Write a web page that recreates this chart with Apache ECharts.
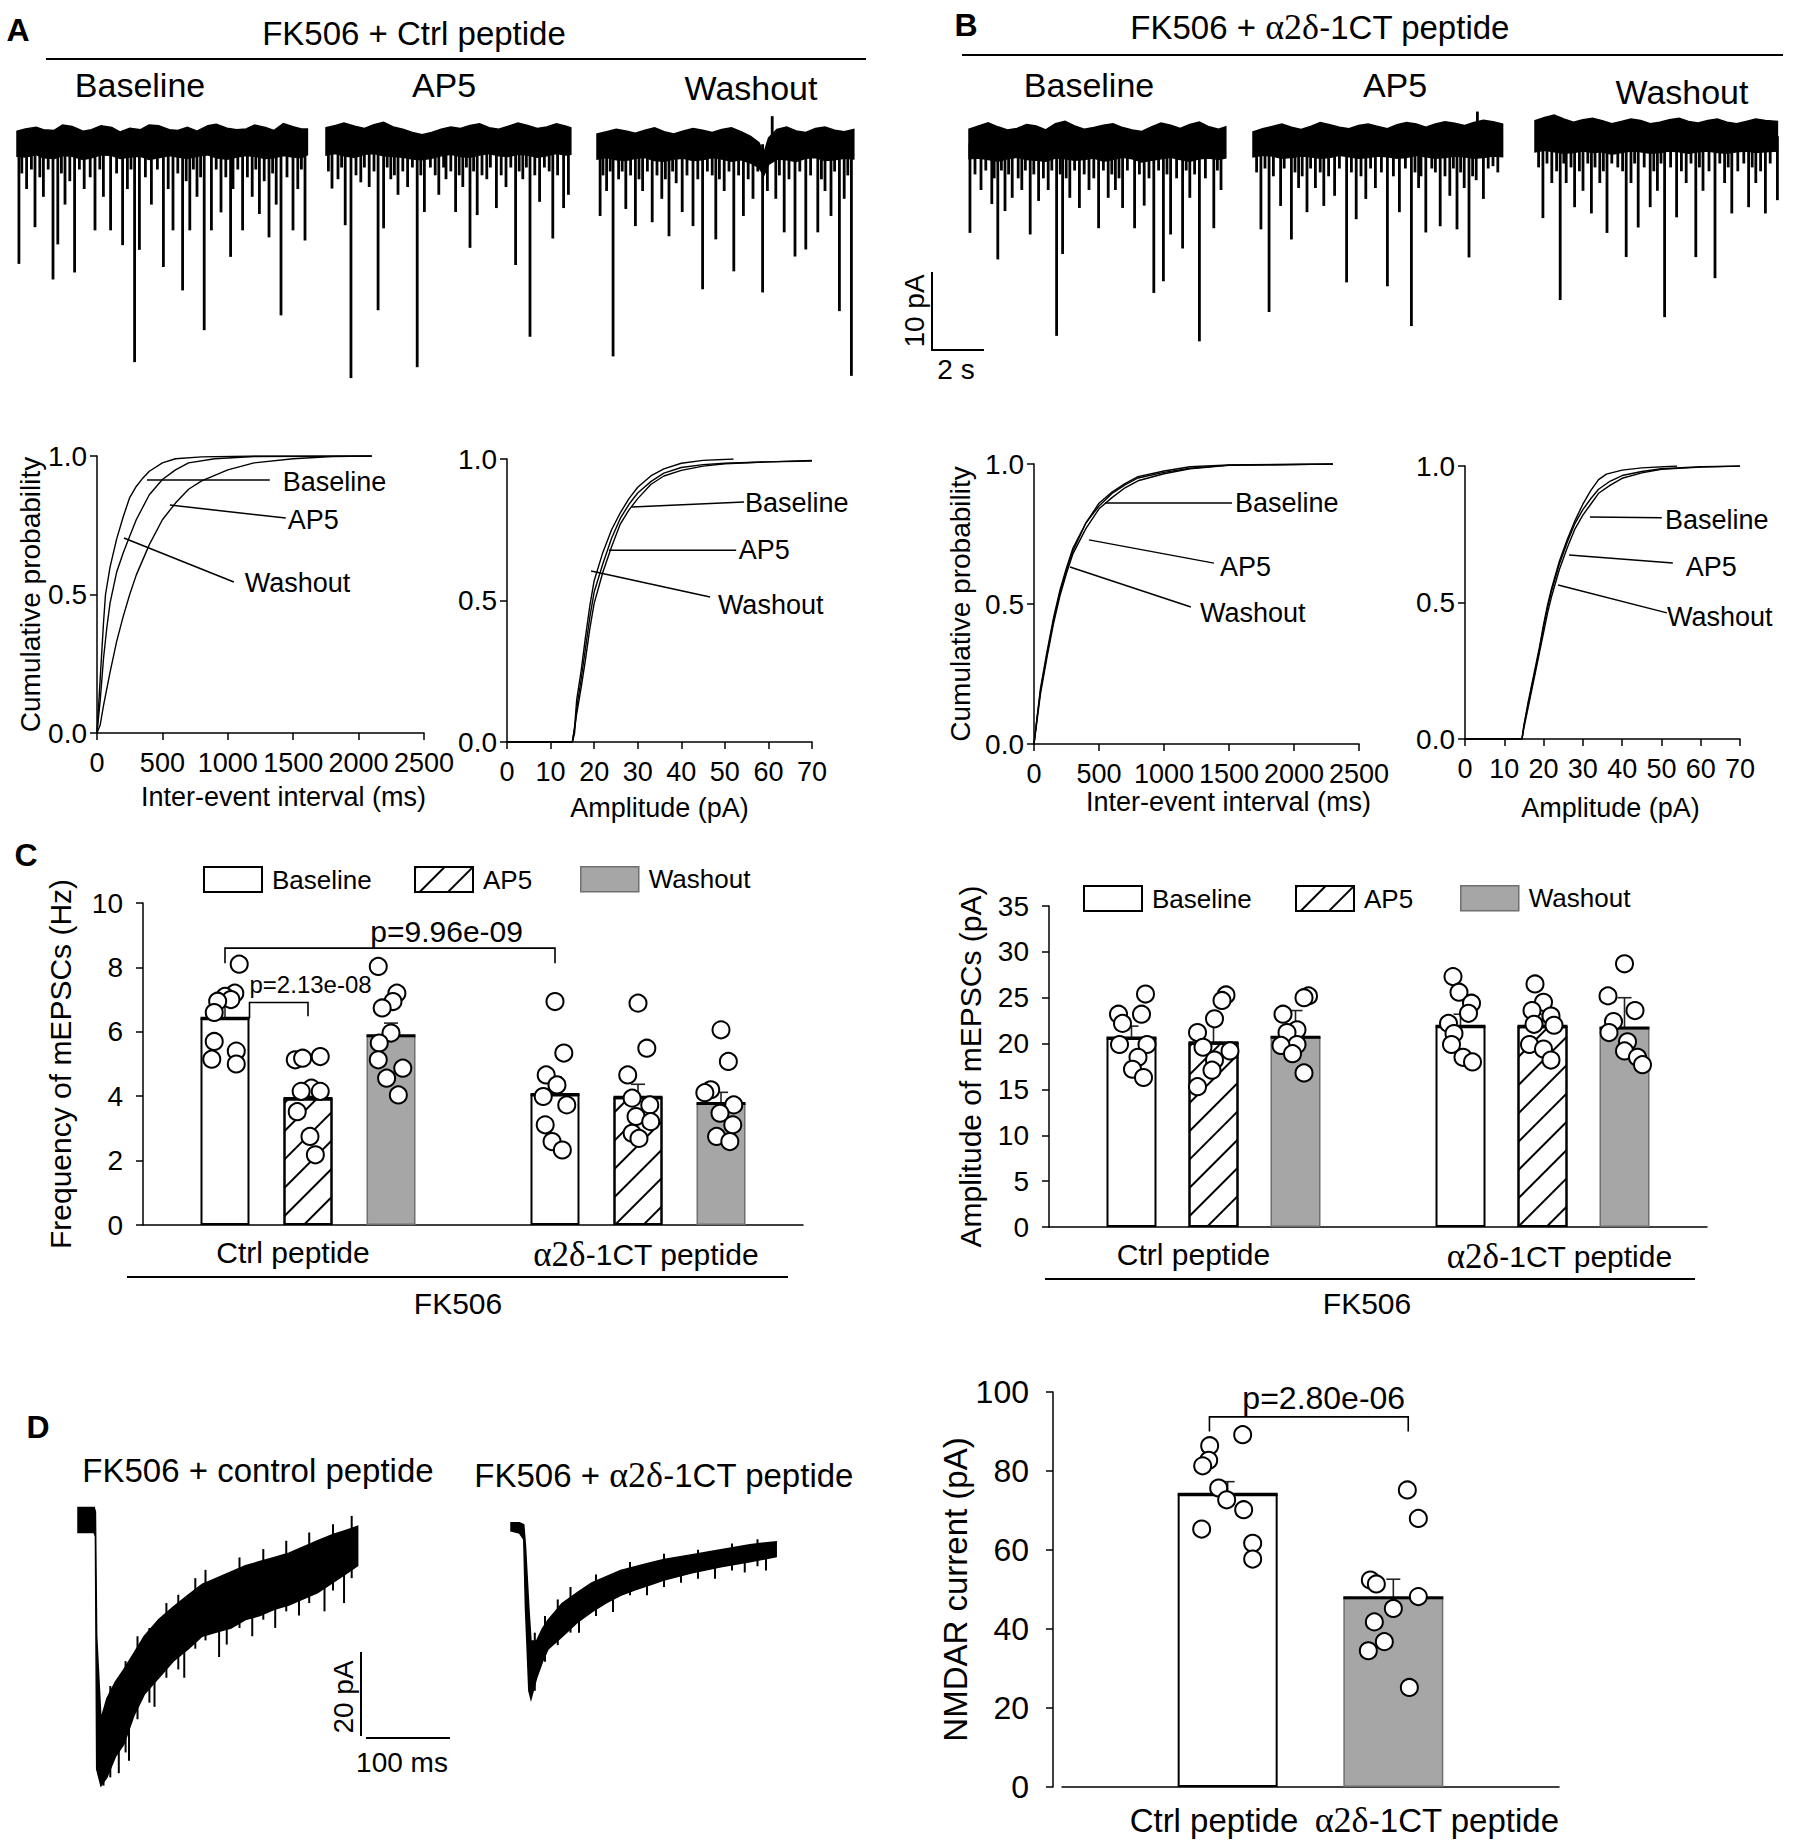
<!DOCTYPE html>
<html><head><meta charset="utf-8">
<script src="https://cdn.jsdelivr.net/npm/echarts/dist/echarts.min.js"></script>
<style>html,body{margin:0;padding:0;background:#fff}#chart{width:1800px;height:1843px}</style>
</head><body><div id="chart"></div>
<script>
// ================= DATA =================
// ---- Panel A/B mEPSC traces: noise band (time s, top pA, bottom pA) and events [t(s), amplitude(pA)]
const aBaseDur = 12.1, aAP5Dur = 10.2, aWashDur = 10.7, bBaseDur = 10.7, bAP5Dur = 10.4, bWashDur = 10.1;
const aBaseT = [0,0.35,0.8,1.1,1.55,1.9,2.3,2.75,3.1,3.5,3.95,4.3,4.7,5.15,5.5,5.9,6.35,6.7,7.1,7.5,7.95,8.3,8.75,9.15,9.55,9.9,10.35,10.7,11.1,11.5,11.85,12.1];
const aBaseTop = [1.4,1.7,1.9,1.6,1.5,2.2,2.0,1.4,1.6,2.1,1.9,1.3,1.8,1.6,2.2,2.1,1.6,1.5,1.9,1.4,2.1,2.3,1.8,1.6,1.7,2.2,1.9,1.5,2.4,2.0,1.7,1.7];
const aBaseBot = [-1.8,-1.9,-1.6,-2.0,-2.1,-1.7,-1.8,-2.2,-2.0,-1.6,-1.7,-2.1,-1.9,-1.8,-2.2,-2.0,-1.7,-1.9,-2.1,-1.8,-1.6,-2.0,-2.2,-1.9,-1.7,-1.8,-2.1,-2.0,-1.7,-1.9,-2.0,-1.6];
const aBaseEvents = [[0.08,-15.6],[0.4,-6],[0.75,-10.9],[1.1,-7],[1.5,-17.6],[1.7,-13.1],[2.0,-8],[2.4,-16.7],[2.8,-6],[3.25,-11.3],[3.6,-7],[3.9,-11.3],[4.4,-13.2],[4.6,-6],[4.9,-28.2],[5.1,-13.8],[5.6,-8],[6.1,-16.0],[6.3,-6],[6.5,-11.3],[6.9,-19.0],[7.2,-11.3],[7.5,-7],[7.8,-24.1],[8.1,-11.3],[8.5,-9],[8.9,-14.7],[9.0,-6],[9.4,-11.3],[9.8,-7],[10.1,-9.2],[10.5,-12.2],[10.8,-8],[11.0,-22.2],[11.5,-11.3],[11.7,-6],[12.0,-12.6],
  [0.2,-4],[0.6,-3.5],[0.95,-4.5],[1.3,-3.5],[1.85,-4],[2.2,-5],[2.6,-3.5],[3.05,-4.5],[3.45,-3.5],[4.15,-4],[4.75,-3.5],[5.35,-4.5],[5.85,-3.5],[6.7,-4],[7.05,-5],[7.35,-3.5],[7.65,-4.5],[8.3,-3.5],[8.7,-4.5],[9.2,-3.5],[9.6,-4.5],[9.95,-3.5],[10.3,-5],[10.65,-4],[11.25,-4.5],[11.85,-3.5]];
const aAP5T = [0,0.4,0.75,1.2,1.6,2.0,2.4,2.8,3.2,3.6,4.0,4.4,4.8,5.2,5.6,6.0,6.4,6.8,7.2,7.6,8.0,8.4,8.8,9.2,9.6,10.0,10.2];
const aAP5Top = [1.6,1.9,2.2,1.8,1.5,2.0,2.3,1.7,1.4,1.0,0.7,1.0,1.4,1.7,1.5,1.9,2.1,1.6,1.4,1.8,2.2,1.9,1.5,1.7,2.1,1.8,1.6];
const aAP5Bot = [-1.9,-1.7,-2.0,-2.2,-1.8,-1.7,-2.0,-2.1,-2.2,-2.4,-2.5,-2.3,-2.0,-1.8,-2.1,-2.2,-1.9,-1.7,-2.0,-2.1,-1.8,-1.9,-2.2,-2.0,-1.7,-1.9,-1.8];
const aAP5Events = [[0.25,-6.2],[0.5,-5],[0.8,-10.9],[1.04,-30.5],[1.45,-5.4],[1.8,-6],[2.17,-21.8],[2.4,-11.3],[2.7,-5],[3.0,-7],[3.4,-6],[3.8,-29.1],[4.1,-9.2],[4.7,-7],[5.0,-5],[5.4,-9.2],[5.7,-6],[6.0,-13.8],[6.3,-9.6],[6.7,-5],[7.1,-8.7],[7.5,-6],[7.9,-16],[8.2,-5],[8.5,-25.2],[8.9,-7.9],[9.45,-12.6],[9.9,-8.7],[10.1,-7],
  [0.1,-4],[0.65,-3.5],[1.25,-4.5],[1.6,-3.5],[2.0,-4],[2.55,-3.5],[2.85,-4.5],[3.2,-4],[3.6,-3.5],[3.95,-4.5],[4.35,-3.5],[4.55,-4.5],[4.9,-3.5],[5.2,-4],[5.55,-4.5],[5.85,-3.5],[6.15,-4],[6.5,-4.5],[6.85,-3.5],[7.3,-4.5],[7.7,-3.5],[8.05,-4],[8.35,-3.5],[8.7,-4.5],[9.1,-3.5],[9.3,-4],[9.65,-4.5]];
const aWashT = [0,0.4,0.8,1.2,1.6,2.0,2.4,2.8,3.2,3.6,4.0,4.4,4.8,5.2,5.6,6.0,6.4,6.75,6.95,7.15,7.5,7.9,8.3,8.7,9.1,9.5,9.9,10.3,10.7];
const aWashTop = [1.3,1.6,1.9,1.7,1.4,1.8,2.1,1.6,1.3,1.7,2.0,1.8,1.5,1.9,2.1,1.6,1.0,0.2,-1.2,0.8,1.9,2.2,1.7,1.5,2.0,2.2,1.8,1.6,1.9];
const aWashBot = [-1.9,-1.7,-2.0,-2.1,-1.8,-1.7,-2.1,-2.2,-1.9,-1.8,-2.1,-2.0,-1.7,-1.9,-2.2,-2.0,-2.4,-3.0,-4.0,-2.6,-1.9,-2.0,-2.2,-1.8,-1.7,-2.1,-2.0,-1.8,-1.9];
const aWashEvents = [[0.13,-9.2],[0.4,-6],[0.67,-27.2],[1.2,-8.3],[1.6,-10.5],[1.9,-6],[2.3,-10],[2.7,-7],[3.0,-11.8],[3.3,-5],[3.55,-8.7],[4.0,-10.5],[4.4,-18.6],[4.95,-12.2],[5.3,-6],[5.7,-16.3],[6.1,-9.2],[6.5,-7],[6.9,-19],[7.1,-6],[7.3,3.6],[7.45,-7],[7.8,-11.3],[8.25,-14.4],[8.7,-13.5],[9.2,-11.3],[9.5,-6],[9.75,-9.2],[10.1,-21.4],[10.3,-7],[10.6,-29.7],
  [0.25,-4],[0.55,-3.5],[0.9,-4.5],[1.05,-3.5],[1.4,-4],[1.75,-4.5],[2.1,-3.5],[2.5,-4],[2.85,-4.5],[3.15,-3.5],[3.75,-4],[4.2,-4.5],[4.6,-3.5],[4.8,-4],[5.1,-4.5],[5.5,-3.5],[5.9,-4],[6.3,-4.5],[6.7,-3.5],[7.6,-4],[8.0,-4.5],[8.45,-3.5],[8.9,-4],[9.35,-4.5],[9.9,-3.5],[10.45,-4]];
const bBaseT = [0,0.4,0.8,1.2,1.6,2.0,2.4,2.8,3.2,3.6,4.0,4.4,4.8,5.2,5.6,6.0,6.4,6.8,7.2,7.6,8.0,8.4,8.8,9.2,9.6,10.0,10.4,10.7];
const bBaseTop = [1.8,2.2,2.6,2.1,1.7,1.9,2.4,2.2,1.7,2.5,2.8,2.2,1.8,2.0,2.3,2.5,2.0,1.7,1.5,2.1,2.6,2.3,1.9,2.4,2.7,2.1,1.8,2.1];
const bBaseBot = [-2.0,-1.9,-2.1,-2.3,-2.0,-1.8,-2.1,-2.2,-2.3,-1.9,-2.0,-2.2,-2.1,-1.9,-2.3,-2.1,-1.8,-2.0,-2.4,-2.2,-2.0,-1.8,-2.1,-2.3,-2.0,-1.9,-2.1,-1.9];
const bBaseEvents = [[0.04,-11.5],[0.5,-6],[0.95,-7.8],[1.2,-14.9],[1.5,-8.7],[1.8,-7],[2.2,-6],[2.55,-11.7],[2.9,-7.4],[3.3,-6],[3.65,-24.7],[3.9,-14.2],[4.2,-7],[4.6,-8.3],[5.0,-6],[5.4,-10.9],[5.8,-7],[6.1,-6],[6.4,-8.3],[6.9,-10.9],[7.3,-8],[7.7,-19.2],[8.1,-17.7],[8.4,-11.7],[8.9,-13.5],[9.2,-7],[9.6,-25.4],[10.2,-10.9],[10.5,-6],
  [0.25,-4],[0.7,-3.5],[1.05,-4.5],[1.35,-3.5],[1.65,-4],[2.05,-4.5],[2.35,-3.5],[2.7,-4],[3.1,-4.5],[3.45,-3.5],[3.8,-4],[4.05,-4.5],[4.4,-3.5],[4.8,-4],[5.2,-4.5],[5.6,-3.5],[5.95,-4],[6.25,-4.5],[6.6,-3.5],[7.1,-4],[7.5,-4.5],[7.9,-3.5],[8.25,-4],[8.65,-4.5],[9.05,-3.5],[9.4,-4],[9.85,-4.5],[10.35,-3.5]];
const bAP5T = [0,0.4,0.8,1.2,1.6,2.0,2.4,2.8,3.2,3.6,4.0,4.4,4.8,5.2,5.6,6.0,6.4,6.8,7.2,7.6,8.0,8.4,8.8,9.2,9.6,10.0,10.4];
const bAP5Top = [1.2,1.6,1.9,2.2,1.8,1.5,1.9,2.4,2.1,1.8,1.6,2.0,2.2,1.9,1.6,2.1,2.4,2.2,1.8,2.2,2.5,2.3,2.0,2.4,2.7,2.5,2.2];
const bAP5Bot = [-2.0,-1.8,-1.9,-2.2,-2.1,-1.9,-2.0,-2.2,-2.1,-1.8,-2.0,-2.2,-2.1,-1.9,-2.0,-2.2,-2.1,-1.8,-2.0,-2.2,-2.1,-1.9,-2.0,-2.2,-2.1,-1.9,-2.0];
const bAP5Events = [[0.33,-11.3],[0.67,-21.9],[1.15,-8.3],[1.6,-12.6],[1.9,-6],[2.25,-9.1],[2.6,-6],[2.95,-8.3],[3.4,-7],[3.9,-18.1],[4.3,-10],[4.7,-7.4],[5.1,-6],[5.6,-18.6],[6.1,-9.1],[6.6,-23.7],[6.9,-6],[7.2,-11.7],[7.8,-10.9],[8.2,-7],[8.5,-11.3],[8.8,-6],[9.0,-14.9],[9.3,-5],[9.35,3.8],[9.6,-7.4],[10.0,-3.2],
  [0.15,-4],[0.5,-3.5],[0.85,-4.5],[1.3,-3.5],[1.75,-4],[2.05,-4.5],[2.4,-3.5],[2.8,-4],[3.15,-4.5],[3.6,-3.5],[4.1,-4],[4.5,-4.5],[4.9,-3.5],[5.35,-4],[5.85,-4.5],[6.35,-3.5],[6.75,-4],[7.0,-4.5],[7.45,-3.5],[7.6,-4],[8.0,-4.5],[8.35,-3.5],[8.65,-4],[9.15,-4.5],[9.8,-3.5],[10.2,-4]];
const bWashT = [0,0.4,0.8,1.2,1.6,2.0,2.4,2.8,3.2,3.6,4.0,4.4,4.8,5.2,5.6,6.0,6.4,6.8,7.2,7.6,8.0,8.4,8.8,9.2,9.6,10.1];
const bWashTop = [2.0,2.4,2.7,2.2,1.8,2.1,2.3,2.0,1.6,1.9,2.2,2.0,1.6,1.8,2.1,2.3,1.9,1.7,2.0,2.2,1.8,1.6,1.9,2.2,2.0,1.9];
const bWashBot = [-2.0,-1.8,-2.0,-2.2,-2.1,-1.9,-2.1,-2.0,-2.3,-2.1,-1.9,-2.0,-2.2,-2.1,-1.9,-2.0,-2.2,-2.0,-1.9,-2.1,-2.2,-2.0,-1.9,-2.1,-2.0,-1.9];
const bWashEvents = [[0.33,-10.5],[0.7,-6],[1.05,-21],[1.3,-6],[1.65,-9.1],[2.0,-7],[2.35,-9.9],[2.7,-6],[3.0,-12.4],[3.8,-15.5],[4.0,-6],[4.3,-11.7],[4.8,-9.1],[5.1,-7],[5.4,-23.2],[5.9,-10.4],[6.3,-6],[6.7,-15.5],[7.0,-7],[7.5,-18.2],[7.9,-6],[8.2,-9.9],[8.9,-9.1],[9.2,-6],[9.6,-9.9],[10.1,-8.2],
  [0.15,-4],[0.5,-3.5],[0.9,-4.5],[1.2,-3.5],[1.5,-4],[1.85,-4.5],[2.2,-3.5],[2.5,-4],[2.85,-4.5],[3.2,-3.5],[3.45,-4],[3.65,-4.5],[4.15,-3.5],[4.55,-4],[4.95,-4.5],[5.25,-3.5],[5.65,-4],[6.1,-4.5],[6.5,-3.5],[6.85,-4],[7.25,-4.5],[7.7,-3.5],[8.05,-4],[8.45,-4.5],[8.7,-3.5],[9.05,-4],[9.4,-4.5],[9.8,-3.5]];

// ---- Cumulative probability curves [x, P]
const ieiCtrlBaseline = [[0,0],[25,0.2],[50,0.4],[65,0.5],[100,0.6],[150,0.7],[200,0.78],[250,0.85],[300,0.89],[350,0.92],[400,0.945],[500,0.975],[600,0.99],[800,0.997],[1200,1],[2100,1]];
const ieiCtrlAP5 = [[0,0],[25,0.03],[50,0.1],[100,0.22],[150,0.33],[200,0.42],[250,0.5],[300,0.57],[400,0.68],[500,0.77],[600,0.83],[700,0.88],[800,0.91],[1000,0.95],[1200,0.975],[1500,0.99],[1800,0.998],[2100,1]];
const ieiCtrlWashout = [[0,0],[25,0.12],[50,0.27],[75,0.38],[100,0.47],[150,0.58],[200,0.65],[250,0.71],[300,0.77],[400,0.86],[500,0.915],[600,0.95],[700,0.975],[900,0.99],[1200,0.998],[2100,1]];
const ampCtrlBaseline = [[0,0],[15,0],[15.5,0.05],[16,0.15],[17,0.25],[18,0.37],[19,0.48],[20,0.57],[22,0.67],[24,0.75],[26,0.81],[28,0.86],[30,0.9],[33,0.94],[36,0.965],[40,0.985],[45,0.995],[52,1]];
const ampCtrlAP5 = [[0,0],[15,0],[15.5,0.03],[16,0.12],[17,0.22],[18,0.33],[19,0.44],[20,0.53],[22,0.63],[24,0.72],[26,0.79],[28,0.84],[30,0.88],[33,0.92],[36,0.95],[40,0.97],[45,0.98],[50,0.985],[60,0.99],[70,0.995]];
const ampCtrlWashout = [[0,0],[15,0],[16,0.1],[17,0.19],[18,0.29],[19,0.4],[20,0.49],[22,0.6],[24,0.69],[26,0.77],[28,0.82],[30,0.86],[33,0.91],[36,0.94],[40,0.96],[45,0.975],[50,0.983],[60,0.99],[70,0.993]];
const ieiCTBaseline = [[0,0],[25,0.1],[50,0.2],[100,0.33],[150,0.45],[200,0.55],[250,0.63],[300,0.7],[400,0.79],[500,0.86],[600,0.9],[700,0.93],[800,0.955],[1000,0.975],[1200,0.99],[1500,0.997],[2300,1]];
const ieiCTAP5 = [[0,0],[25,0.09],[50,0.18],[100,0.31],[150,0.43],[200,0.53],[250,0.61],[300,0.68],[400,0.77],[500,0.84],[600,0.88],[700,0.915],[800,0.94],[1000,0.965],[1200,0.983],[1500,0.995],[2300,1]];
const ieiCTWashout = [[0,0],[25,0.1],[50,0.19],[100,0.32],[150,0.44],[200,0.54],[250,0.62],[300,0.69],[400,0.79],[500,0.85],[600,0.895],[700,0.925],[800,0.95],[1000,0.97],[1200,0.985],[1500,0.996],[2300,1]];
const ampCTBaseline = [[0,0],[14.5,0],[15,0.05],[16,0.13],[17,0.2],[18,0.27],[19,0.34],[20,0.42],[21,0.49],[22,0.55],[24,0.65],[26,0.73],[28,0.8],[30,0.86],[32,0.91],[34,0.95],[36,0.97],[40,0.985],[45,0.993],[54,1]];
const ampCTAP5 = [[0,0],[14.5,0],[15,0.04],[16,0.11],[17,0.18],[18,0.25],[19,0.32],[20,0.39],[21,0.46],[22,0.52],[24,0.62],[26,0.7],[28,0.77],[30,0.82],[32,0.86],[34,0.9],[37,0.93],[40,0.955],[45,0.975],[50,0.988],[60,0.996],[70,1]];
const ampCTWashout = [[0,0],[14.5,0],[15,0.05],[16,0.12],[17,0.19],[18,0.26],[19,0.33],[20,0.41],[21,0.48],[22,0.54],[24,0.64],[26,0.72],[28,0.79],[30,0.84],[32,0.88],[34,0.915],[37,0.945],[40,0.965],[45,0.98],[50,0.99],[60,0.997],[70,1]];
const cumLabels = ['Baseline', 'AP5', 'Washout'];

// ---- Panel C
const groupLabels = ['Ctrl peptide', 'α2δ-1CT peptide'];
const condNames = ['Baseline', 'AP5', 'Washout'];
const freqMeanBaseline = [6.42, 4.05];
const freqMeanAP5 = [3.93, 3.97];
const freqMeanWashout = [5.88, 3.77];
const freqSemTopBaseline = [6.85, 4.6];
const freqSemTopAP5 = [4.25, 4.37];
const freqSemTopWashout = [6.27, 4.12];
const freqCtrlBaseline = [8.1,7.2,7.1,7.0,6.95,6.6,5.7,5.4,5.15,5.0];
const freqCtrlAP5 = [5.13,5.18,5.23,4.25,4.15,4.15,3.52,2.75,2.18];
const freqCtrlWashout = [8.03,7.2,6.94,6.74,5.96,5.65,5.13,4.87,4.56,4.04];
const freqCTBaseline = [6.94,5.34,4.66,4.35,3.99,3.73,3.11,2.59,2.33];
const freqCTAP5 = [6.89,5.49,4.66,3.94,3.73,3.37,3.21,2.85,2.69];
const freqCTWashout = [6.06,5.08,4.2,4.11,3.73,3.47,3.11,2.75,2.59];
const freqJitCtrlBaseline = [0.29,0.2,0.0,0.12,-0.15,-0.22,-0.22,0.23,-0.27,0.23];
const freqJitCtrlAP5 = [-0.26,-0.11,0.25,0.07,-0.14,0.25,-0.22,0.04,0.15];
const freqJitCtrlWashout = [-0.26,0.12,0.04,-0.18,0,-0.24,-0.26,0.24,-0.09,0.15];
const freqJitCTBaseline = [0,0.18,-0.18,0.04,-0.24,0.24,-0.2,-0.06,0.15];
const freqJitCTAP5 = [0,0.18,-0.21,-0.12,0.24,-0.04,0.26,-0.12,0.02];
const freqJitCTWashout = [0,0.15,-0.21,-0.33,0.26,-0.02,0.24,-0.09,0.18];
const freqPvals = ['p=9.96e-09', 'p=2.13e-08'];

const ampMeanBaseline = [20.6, 21.9];
const ampMeanAP5 = [20.1, 21.9];
const ampMeanWashout = [20.7, 21.7];
const ampSemTopBaseline = [21.9, 23.2];
const ampSemTopAP5 = [22.4, 23.2];
const ampSemTopWashout = [23.6, 25.0];
const ampCtrlBaselinePts = [25.4,23.2,23.2,22.2,19.9,19.9,18.5,17.2,16.3];
const ampCtrlAP5Pts = [25.3,24.7,22.7,21.2,19.6,19.2,18.2,17.1,15.3];
const ampCtrlWashoutPts = [25.2,25.0,23.2,21.5,21.2,19.9,19.8,18.9,16.8];
const ampCTBaselinePts = [27.3,25.6,24.4,23.3,22.2,21.1,19.9,18.5,18.0];
const ampCTAP5Pts = [26.5,24.5,23.6,23.0,22.1,22.0,19.9,19.4,18.2];
const ampCTWashoutPts = [28.7,25.2,23.6,22.4,21.2,20.2,19.2,18.5,17.7];
const ampJitCtrlBaseline = [0.28,-0.26,0.2,-0.18,-0.24,0.31,0.13,0.02,0.24];
const ampJitCtrlAP5 = [0.25,0.17,0.02,-0.32,-0.21,0.33,0.02,-0.03,-0.32];
const ampJitCtrlWashout = [0.26,0.17,-0.25,0.03,-0.17,0.03,-0.29,-0.06,0.17];
const ampJitCTBaseline = [-0.15,-0.03,0.22,0.16,-0.24,-0.13,-0.18,0.05,0.24];
const ampJitCTAP5 = [-0.15,0.02,-0.21,0.17,-0.17,0.23,-0.26,0.02,0.17];
const ampJitCTWashout = [0,-0.33,0.21,-0.22,-0.31,0.06,0,0.26,0.36];

// ---- Panel D
const nmdaTraceCtrl = [[0,1,-5],[19,1,-5],[20.5,0,-6],[22,-30,-62],[27,-50,-66],[34,-45,-64],[44,-41,-59],[54,-38,-56],[66,-34,-49],[78,-30,-44],[95,-26,-40],[112,-23,-36],[130,-20,-33],[146,-17.5,-30],[163,-16,-29],[180,-14.5,-28],[197,-13,-26],[214,-12,-25],[231,-11,-23.5],[248,-10,-22.5],[265,-8.5,-21],[282,-7,-19.5],[300,-5.5,-17],[315,-4.5,-15],[329,-3.5,-13]];
const nmdaNoiseCtrl = [[30,-50,-66],[38,-42,-64],[48,-40,-63],[56,-36,-58],[60,-45,-60],[70,-30,-50],[84,-28,-46],[90,-38,-47],[104,-22,-40],[118,-20,-38],[125,-30,-40],[138,-16,-33],[150,-14,-31],[166,-26,-35],[175,-24,-32],[190,-11,-28],[205,-20,-30],[218,-9,-26],[232,-18,-28],[245,-7,-24],[260,-16,-25],[272,-5,-22],[290,-15,-24],[300,-3,-19],[313,-13,-22],[322,-1,-16]];
const nmdaTraceCT = [[0,0.5,-1.5],[10,0.5,-2],[15,0,-3.5],[17,-5,-20],[21,-20,-40],[23.5,-28,-42],[30,-28,-37],[37,-25,-33],[43.5,-23,-30],[60,-19,-27],[77.6,-16.4,-23.6],[95,-14,-21],[112,-12.5,-18.8],[129,-11,-17],[146,-10.1,-15.7],[163,-9.2,-14.5],[180,-8.4,-13.3],[213,-7.2,-11.6],[247,-6,-10.1],[281,-4.8,-8.9],[312,-4.1,-7.7]];
const nmdaNoiseCT = [[28,-26,-40],[40,-22,-33],[55,-18,-29],[70,-15,-26],[80,-20,-26],[100,-12,-22],[120,-16,-21],[140,-9,-17],[160,-13,-17],[180,-7,-15],[200,-11,-14],[220,-6,-13],[240,-9,-13],[260,-4.5,-11],[275,-8,-11.5],[290,-3.5,-10],[300,-7,-11]];
const nmdaMean = [74.1, 47.9];
const nmdaSemTop = [77.3, 52.6];
const nmdaCtrlPts = [89.2,86.4,82.7,81.3,75.7,72.7,70.2,65.3,61.7,57.7];
const nmdaCTPts = [75.2,68.0,52.4,51.4,48.2,45.2,41.8,36.8,34.5,25.2];
const nmdaJitCtrl = [0.15,-0.18,-0.19,-0.25,-0.09,-0.01,0.16,-0.26,0.25,0.25];
const nmdaJitCT = [0.14,0.25,-0.23,-0.17,0.25,0,-0.19,-0.09,-0.25,0.16];
const nmdaPval = 'p=2.80e-06';

// ================= CHART =================
const FONT = '"Liberation Sans", Arial, Helvetica, sans-serif';
const SERIF = '"Liberation Serif", "DejaVu Serif", serif';
const GREEK = 'α2δ';
const GRAY = '#a6a6a6';
const HATCH = {symbol:'rect', symbolSize:1, color:'#000', dashArrayX:[1,0], dashArrayY:[2,18], rotation:-Math.PI/4};
const chart = echarts.init(document.getElementById('chart'), null, {renderer:'svg', width:1800, height:1843});
const opt = {animation:false, backgroundColor:'#fff', textStyle:{fontFamily:FONT, color:'#000'},
  grid:[], xAxis:[], yAxis:[], series:[], legend:[], graphic:{elements:[]}};
const G = g => (opt.grid.push(g), opt.grid.length-1);
const X = a => (opt.xAxis.push(a), opt.xAxis.length-1);
const Y = a => (opt.yAxis.push(a), opt.yAxis.length-1);
const LS = {color:'#000', width:1.5};
function axis(gi, o){
  return Object.assign({gridIndex:gi, type:'value', splitLine:{show:false},
    axisLine:{show:true, onZero:false, lineStyle:LS},
    axisTick:{show:true, length:7, lineStyle:LS},
    axisLabel:{color:'#000', fontSize:28, fontFamily:FONT, margin:10},
    nameTextStyle:{color:'#000', fontSize:28, fontFamily:FONT}}, o);
}
const zip3 = (t, a, b) => t.map((v, i) => [v, a[i], b[i]]);

// ----- traces
function traceGrid(left, top, width, height, xmax, ymin, ymax){
  const g = G({left, top, width, height});
  return {x: X({type:'value', gridIndex:g, min:0, max:xmax, show:false}),
          y: Y({type:'value', gridIndex:g, min:ymin, max:ymax, show:false})};
}
function bandSeries(ax, band){
  opt.series.push({type:'custom', xAxisIndex:ax.x, yAxisIndex:ax.y, data:band, silent:true,
    renderItem(p, api){
      if (p.dataIndex !== 0) return null;
      const pts = band.map(d => api.coord([d[0], d[1]]));
      for (let i = band.length-1; i >= 0; i--) pts.push(api.coord([band[i][0], band[i][2]]));
      return {type:'polygon', shape:{points:pts}, style:{fill:'#000', stroke:'#000', lineWidth:1.5}};
    }});
}
function eventSeries(ax, ev, w){
  opt.series.push({type:'custom', xAxisIndex:ax.x, yAxisIndex:ax.y, data:ev, silent:true,
    renderItem(p, api){
      const d = ev[p.dataIndex];
      const from = d.length > 2 ? d[1] : 0, to = d.length > 2 ? d[2] : d[1];
      const a = api.coord([d[0], from]), b = api.coord([d[0], to]);
      return {type:'line', shape:{x1:a[0], y1:a[1], x2:b[0], y2:b[1]}, style:{stroke:'#000', lineWidth:w}};
    }});
}
const PXS = 24, PXPA = 7.8;
const trA1 = traceGrid(17, 111, aBaseDur*PXS, 36*PXPA, aBaseDur, -32, 4);
const trA2 = traceGrid(326, 109, aAP5Dur*PXS, 36*PXPA, aAP5Dur, -32, 4);
const trA3 = traceGrid(597, 113, aWashDur*PXS, 36*PXPA, aWashDur, -32, 4);
const trB1 = traceGrid(969, 112, bBaseDur*PXS, 36*PXPA, bBaseDur, -32, 4);
const trB2 = traceGrid(1253, 110, bAP5Dur*PXS, 36*PXPA, bAP5Dur, -32, 4);
const trB3 = traceGrid(1535, 105, bWashDur*PXS, 36*PXPA, bWashDur, -32, 4);
[[trA1, zip3(aBaseT, aBaseTop, aBaseBot), aBaseEvents],
 [trA2, zip3(aAP5T, aAP5Top, aAP5Bot), aAP5Events],
 [trA3, zip3(aWashT, aWashTop, aWashBot), aWashEvents],
 [trB1, zip3(bBaseT, bBaseTop, bBaseBot), bBaseEvents],
 [trB2, zip3(bAP5T, bAP5Top, bAP5Bot), bAP5Events],
 [trB3, zip3(bWashT, bWashTop, bWashBot), bWashEvents]].forEach(([ax, b, e]) => {
  bandSeries(ax, b); eventSeries(ax, e, 2.8);
});

// ----- cumulative plots
function cumPlot(gridSpec, xo, yo, curves, notes){
  const g = G(gridSpec);
  const xi = X(axis(g, xo)), yi = Y(axis(g, Object.assign({min:0, max:1, interval:0.5}, yo)));
  curves.forEach(c => opt.series.push({type:'line', xAxisIndex:xi, yAxisIndex:yi, data:c, showSymbol:false,
    symbol:'none', lineStyle:{color:'#000', width:1.4}, silent:true, z:3}));
  opt.series.push({type:'custom', xAxisIndex:xi, yAxisIndex:yi, data:notes, silent:true, z:4,
    renderItem(p, api){
      const n = notes[p.dataIndex];
      const a = api.coord([n[0], n[1]]), b = api.coord([n[2], n[3]]), t = api.coord([n[4], n[5]]);
      return {type:'group', children:[
        {type:'line', shape:{x1:a[0], y1:a[1], x2:b[0], y2:b[1]}, style:{stroke:'#000', lineWidth:1.5}},
        {type:'text', x:t[0], y:t[1], style:{text:cumLabels[p.dataIndex], fontSize:27, fontFamily:FONT, fill:'#000', textAlign:'left', textVerticalAlign:'middle'}}]};
    }});
}
const yFmt = {color:'#000', fontSize:28, fontFamily:FONT, margin:10, formatter:v => v.toFixed(1)};
const xLab = {color:'#000', fontSize:27, fontFamily:FONT, margin:16, formatter:v => String(v)};
cumPlot({left:97, top:456, width:327, height:277},
  {min:0, max:2500, interval:500, name:'Inter-event interval (ms)', nameLocation:'middle', nameGap:50, axisLabel:xLab,
   nameTextStyle:{color:'#000', fontSize:27, fontFamily:FONT, padding:[0,0,0,46]}},
  {axisLabel:yFmt, name:'Cumulative probability', nameLocation:'middle', nameGap:52,
   nameTextStyle:{color:'#000', fontSize:28, fontFamily:FONT}},
  [ieiCtrlBaseline, ieiCtrlAP5, ieiCtrlWashout],
  [[382,0.913,1321,0.913,1420,0.906],[557,0.823,1443,0.776,1458,0.769],[206,0.704,1046,0.545,1130,0.54]]);
cumPlot({left:507, top:459, width:305, height:283},
  {min:0, max:70, interval:10, name:'Amplitude (pA)', nameLocation:'middle', nameGap:52, axisLabel:xLab,
   nameTextStyle:{color:'#000', fontSize:27, fontFamily:FONT}},
  {axisLabel:yFmt},
  [ampCtrlBaseline, ampCtrlAP5, ampCtrlWashout],
  [[28.7,0.83,54.4,0.848,54.6,0.845],[23.4,0.678,52.6,0.678,53.2,0.678],[19.3,0.604,46.6,0.512,48.4,0.484]]);
cumPlot({left:1034, top:464, width:325, height:280},
  {min:0, max:2500, interval:500, name:'Inter-event interval (ms)', nameLocation:'middle', nameGap:44, axisLabel:xLab,
   nameTextStyle:{color:'#000', fontSize:27, fontFamily:FONT, padding:[0,0,0,64]}},
  {axisLabel:yFmt, name:'Cumulative probability', nameLocation:'middle', nameGap:60,
   nameTextStyle:{color:'#000', fontSize:28, fontFamily:FONT}},
  [ieiCTBaseline, ieiCTAP5, ieiCTWashout],
  [[546,0.861,1523,0.861,1546,0.861],[423,0.729,1384,0.646,1430,0.632],[277,0.632,1207,0.489,1277,0.468]]);
cumPlot({left:1465, top:466, width:275, height:273},
  {min:0, max:70, interval:10, name:'Amplitude (pA)', nameLocation:'middle', nameGap:55, axisLabel:xLab,
   nameTextStyle:{color:'#000', fontSize:27, fontFamily:FONT, padding:[0,0,0,16]}},
  {axisLabel:yFmt},
  [ampCTBaseline, ampCTAP5, ampCTWashout],
  [[31.8,0.813,50.1,0.81,50.9,0.802],[26.5,0.674,52.9,0.645,56.2,0.63],[23.7,0.564,51.4,0.462,51.4,0.447]]);

// ----- grouped bar charts (panel C)
const barStyles = [
  {color:'#fff', borderColor:'#000', borderWidth:2},
  {color:'#fff', borderColor:'#000', borderWidth:2, decal:HATCH},
  {color:GRAY, borderColor:'#6f6f6f', borderWidth:1.5}];
function groupedBars(gridSpec, ymax, yint, yname, nameGap, barW, barStep, means, tops, pts, jits, brackets, labelPad){
  const g = G(gridSpec);
  const band = gridSpec.width / 2;
  const cx = X(axis(g, {type:'category', data:groupLabels, axisTick:{show:false},
    axisLabel:{color:'#000', fontSize:30, fontFamily:FONT, margin:12, interval:0,
      formatter:(v, i) => i === 0 ? '{a|' + v + '}' : '{g|' + GREEK + '}{n|' + v.slice(GREEK.length) + '}',
      rich:{a:{fontSize:30, fontFamily:FONT, color:'#000', padding:[0, labelPad[0], 0, 0]},
            g:{fontSize:35, fontFamily:SERIF, color:'#000', padding:[0, 0, 0, labelPad[1]]},
            n:{fontSize:30, fontFamily:FONT, color:'#000'}}}}));
  const vx = X({type:'value', gridIndex:g, min:0, max:2, show:false});
  const yi = Y(axis(g, {min:0, max:ymax, interval:yint, name:yname, nameLocation:'middle', nameGap,
    axisLabel:{color:'#000', fontSize:28, fontFamily:FONT, margin:20},
    nameTextStyle:{color:'#000', fontSize:30, fontFamily:FONT}}));
  const step = barStep / band, bw = barW / band;
  const xPos = (gi, si) => gi + 0.5 + (si - 1) * step;
  condNames.forEach((nm, si) => opt.series.push({type:'bar', name:nm, xAxisIndex:cx, yAxisIndex:yi,
    data:means[si], barWidth:barW, barGap:((barStep-barW)/barW*100).toFixed(1)+'%', itemStyle:barStyles[si], silent:true, z:2}));
  const err = [];
  for (let gi = 0; gi < 2; gi++) for (let si = 0; si < 3; si++) err.push([xPos(gi, si), means[si][gi], tops[si][gi]]);
  opt.series.push(errSeries(vx, yi, err, barW));
  for (let gi = 0; gi < 2; gi++) for (let si = 0; si < 3; si++) {
    const vals = pts[gi][si], jit = jits[gi][si];
    opt.series.push({type:'scatter', xAxisIndex:vx, yAxisIndex:yi, data:vals.map((v, k) => [xPos(gi, si) + jit[k]*bw, v]),
      symbol:'circle', symbolSize:17, itemStyle:{color:'#fff', borderColor:'#000', borderWidth:2, opacity:1}, silent:true, z:6});
  }
  if (brackets) opt.series.push(bracketSeries(vx, yi, brackets.map(b => {
    const x1 = xPos(b.from[0], b.from[1]) + b.from[2]*bw, x2 = xPos(b.to[0], b.to[1]);
    return [x1, x2, b.top, b.legs[0], b.legs[1], b.textX == null ? x1 : b.textX, b.textY, b.align, b.size];
  }), brackets.map(b => b.label)));
}
function errSeries(xi, yi, data, barW){
  return {type:'custom', xAxisIndex:xi, yAxisIndex:yi, data, silent:true, z:4,
    renderItem(p, api){
      const m = api.coord([api.value(0), api.value(1)]), u = api.coord([api.value(0), api.value(2)]);
      return {type:'group', children:[
        {type:'line', shape:{x1:m[0], y1:m[1], x2:u[0], y2:u[1]}, style:{stroke:'#222', lineWidth:1.6}},
        {type:'line', shape:{x1:u[0]-7, y1:u[1], x2:u[0]+7, y2:u[1]}, style:{stroke:'#222', lineWidth:1.6}},
        {type:'line', shape:{x1:m[0]-barW/2, y1:m[1], x2:m[0]+barW/2, y2:m[1]}, style:{stroke:'#000', lineWidth:3}}]};
    }};
}
// bracket item: [x1, x2, yTop, yLeg1, yLeg2, xText, yText, align, fontSize]
function bracketSeries(xi, yi, data, labels){
  return {type:'custom', xAxisIndex:xi, yAxisIndex:yi, data, silent:true, z:5,
    renderItem(p, api){
      const d = data[p.dataIndex];
      const a = api.coord([d[0], d[2]]), b = api.coord([d[1], d[2]]);
      const a2 = api.coord([d[0], d[3]]), b2 = api.coord([d[1], d[4]]);
      const t = api.coord([d[5], d[6]]);
      return {type:'group', children:[
        {type:'polyline', shape:{points:[a2, a, b, b2]}, style:{stroke:'#000', lineWidth:1.6, fill:null}},
        {type:'text', x:t[0], y:t[1], style:{text:labels[p.dataIndex], fontSize:d[8], fontFamily:FONT, fill:'#000',
          textAlign:d[7], textVerticalAlign:'middle'}}]};
    }};
}
groupedBars({left:143, top:903, width:660, height:322}, 10, 2, 'Frequency of mEPSCs (Hz)', 68, 49, 83,
  [freqMeanBaseline, freqMeanAP5, freqMeanWashout],
  [freqSemTopBaseline, freqSemTopAP5, freqSemTopWashout],
  [[freqCtrlBaseline, freqCtrlAP5, freqCtrlWashout], [freqCTBaseline, freqCTAP5, freqCTWashout]],
  [[freqJitCtrlBaseline, freqJitCtrlAP5, freqJitCtrlWashout], [freqJitCTBaseline, freqJitCTAP5, freqJitCTWashout]],
  [{from:[0,0,0], to:[1,0], top:8.6, legs:[8.13,8.13], textX:0.92, textY:9.1, align:'center', size:30, label:freqPvals[0]},
   {from:[0,0,0.5], to:[0,1], top:6.91, legs:[6.42,6.48], textX:null, textY:7.46, align:'left', size:24, label:freqPvals[1]}],
  [30, 16]);
groupedBars({left:1049, top:906, width:658, height:321}, 35, 5, 'Amplitude of mEPSCs (pA)', 64, 50, 82,
  [ampMeanBaseline, ampMeanAP5, ampMeanWashout],
  [ampSemTopBaseline, ampSemTopAP5, ampSemTopWashout],
  [[ampCtrlBaselinePts, ampCtrlAP5Pts, ampCtrlWashoutPts], [ampCTBaselinePts, ampCTAP5Pts, ampCTWashoutPts]],
  [[ampJitCtrlBaseline, ampJitCtrlAP5, ampJitCtrlWashout], [ampJitCTBaseline, ampJitCTAP5, ampJitCTWashout]],
  null, [40, 34]);

function legendAt(name, left, top, st){
  opt.legend.push({data:[name], left, top, padding:0, itemGap:0, itemWidth:58, itemHeight:25, icon:'rect',
    selectedMode:false, itemStyle:st, textStyle:{color:'#000', fontSize:26, fontFamily:FONT, padding:[0,0,0,5]}});
}
legendAt('Baseline', 203, 866, barStyles[0]); legendAt('AP5', 414, 866, barStyles[1]); legendAt('Washout', 580, 866, barStyles[2]);
legendAt('Baseline', 1083, 885, barStyles[0]); legendAt('AP5', 1295, 885, barStyles[1]); legendAt('Washout', 1460, 885, barStyles[2]);

// ----- Panel D traces
const PXMS = 0.85, PXPA_D = 4.15;
const trD1 = traceGrid(78, 1491, 330*PXMS, 75*PXPA_D, 330, -70, 5);
const trD2 = traceGrid(511, 1504, 312*PXMS, 75*PXPA_D, 312, -70, 5);
bandSeries(trD1, nmdaTraceCtrl); eventSeries(trD1, nmdaNoiseCtrl, 2);
bandSeries(trD2, nmdaTraceCT); eventSeries(trD2, nmdaNoiseCT, 2);

// ----- Panel D bars
(function(){
  const g = G({left:1062, top:1392, width:497, height:395});
  const xi = X(axis(g, {min:0, max:3, axisTick:{show:false}, axisLabel:{show:false}}));
  const yi = Y(axis(g, {min:0, max:100, interval:20, offset:9, name:'NMDAR current (pA)', nameLocation:'middle', nameGap:70,
    nameTextStyle:{color:'#000', fontSize:33, fontFamily:FONT}, axisLabel:{color:'#000', fontSize:32, fontFamily:FONT, margin:24}}));
  const unit = 497 / 3, bw = 100 / unit;
  opt.series.push({type:'bar', xAxisIndex:xi, yAxisIndex:yi, barWidth:100, silent:true, z:2,
    data:[{value:[1, nmdaMean[0]], itemStyle:barStyles[0]}, {value:[2, nmdaMean[1]], itemStyle:barStyles[2]}]});
  opt.series.push(errSeries(xi, yi, [[1, nmdaMean[0], nmdaSemTop[0]], [2, nmdaMean[1], nmdaSemTop[1]]], 100));
  [[1, nmdaCtrlPts, nmdaJitCtrl], [2, nmdaCTPts, nmdaJitCT]].forEach(([c, v, j]) =>
    opt.series.push({type:'scatter', xAxisIndex:xi, yAxisIndex:yi, data:v.map((y, k) => [c + j[k]*bw, y]),
      symbolSize:17, itemStyle:{color:'#fff', borderColor:'#000', borderWidth:2, opacity:1}, silent:true, z:6}));
  opt.series.push(bracketSeries(xi, yi, [[0.89, 2.09, 93.7, 90.0, 90.0, 1.58, 98.6, 'center', 32]], [nmdaPval]));
})();

// ----- annotations (titles, panel letters, scale bars)
const E = opt.graphic.elements;
function T(text, x, y, size, extra){
  extra = extra || {};
  const style = {text, fontSize:size, fontFamily:FONT, fill:'#000', textAlign:extra.align || 'center',
    textVerticalAlign:'middle', fontWeight:extra.bold ? 'bold' : 'normal'};
  if (text.indexOf('{g|') >= 0) style.rich = {g:{fontSize:size + 3, fontFamily:SERIF, fill:'#000'}, n:{fontSize:size, fontFamily:FONT, fill:'#000'}};
  E.push(Object.assign({type:'text', x, y, silent:true, style}, extra.rotation ? {rotation:extra.rotation} : {}));
}
function L(x1, y1, x2, y2, w){ E.push({type:'line', silent:true, shape:{x1, y1, x2, y2}, style:{stroke:'#000', lineWidth:w || 2}}); }
T('A', 18, 30, 32, {bold:true}); T('B', 966, 25, 32, {bold:true}); T('C', 26, 855, 32, {bold:true}); T('D', 38, 1427, 32, {bold:true});
T('FK506 + Ctrl peptide', 414, 33, 33); L(46, 59, 866, 59);
T('Baseline', 140, 85, 34); T('AP5', 444, 85, 34); T('Washout', 751, 88, 34);
T('{n|FK506 + }{g|' + GREEK + '}{n|-1CT peptide}', 1320, 27, 33); L(962, 55, 1783, 55);
T('Baseline', 1089, 85, 34); T('AP5', 1395, 85, 34); T('Washout', 1682, 92, 34);
L(932, 272, 932, 351); L(932, 350, 984, 350);
T('10 pA', 914, 311, 28, {rotation:Math.PI/2}); T('2 s', 956, 369, 28);
L(127, 1277, 788, 1277); T('FK506', 458, 1303, 30);
L(1045, 1279, 1695, 1279); T('FK506', 1367, 1303, 30);
T('FK506 + control peptide', 258, 1470, 33); T('{n|FK506 + }{g|' + GREEK + '}{n|-1CT peptide}', 664, 1475, 33);
L(361, 1652, 361, 1736); L(366, 1738, 450, 1738);
T('20 pA', 343, 1697, 28, {rotation:Math.PI/2}); T('100 ms', 402, 1762, 28);
T('Ctrl peptide', 1214, 1820, 33); T('{g|' + GREEK + '}{n|-1CT peptide}', 1437, 1820, 33);

chart.setOption(opt);
</script></body></html>
